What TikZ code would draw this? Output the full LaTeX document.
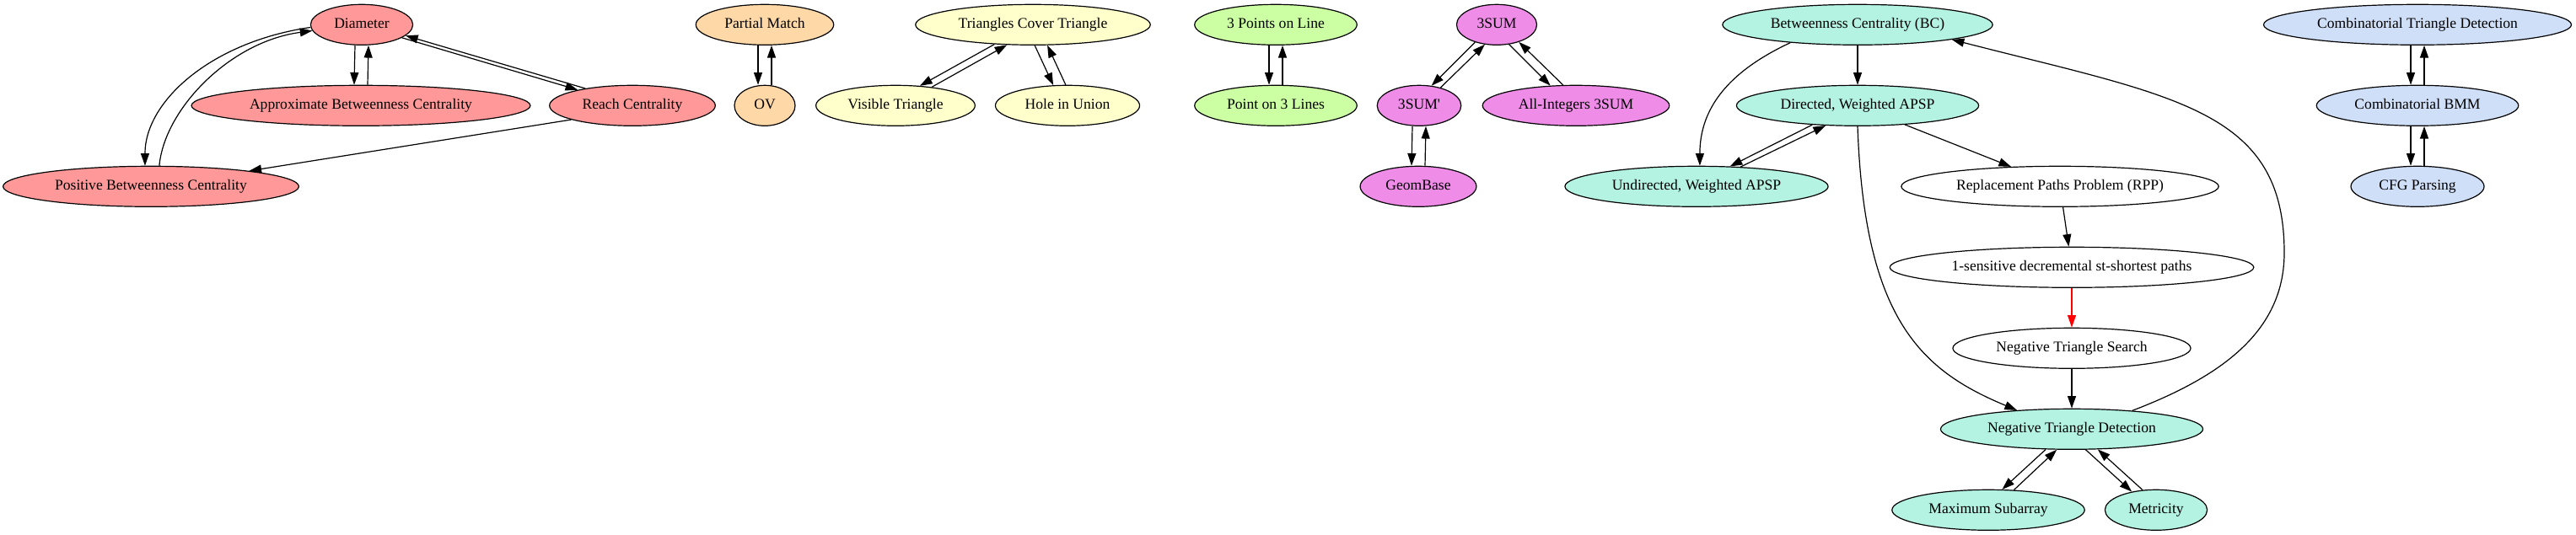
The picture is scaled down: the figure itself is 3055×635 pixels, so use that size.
\documentclass[tikz,border=0pt]{standalone}
\usepackage{fontspec}
\setmainfont{Liberation Serif}
\usetikzlibrary{arrows.meta, shapes.geometric}

\definecolor{rosefill}{HTML}{FF9999}
\definecolor{peachfill}{HTML}{FFD8A8}
\definecolor{lemonfill}{HTML}{FFFFCC}
\definecolor{limefill}{HTML}{CCFFA3}
\definecolor{orchidfill}{HTML}{EE8CE8}
\definecolor{mintfill}{HTML}{B4F2E2}
\definecolor{skyfill}{HTML}{D0DFF8}

\begin{document}
\begin{tikzpicture}[x=0.75pt, y=0.75pt,
    prob/.style={ellipse, draw, line width=0.9pt, inner xsep=7.6pt, inner ysep=2pt,
        minimum width=54pt, minimum height=36pt, text height=10pt, text depth=3pt,
        font=\fontsize{13.2}{16}\selectfont},
    rose/.style={prob, fill=rosefill},
    peach/.style={prob, fill=peachfill},
    lemon/.style={prob, fill=lemonfill},
    lime/.style={prob, fill=limefill},
    orchid/.style={prob, fill=orchidfill},
    mint/.style={prob, fill=mintfill},
    sky/.style={prob, fill=skyfill},
    link/.style={-{Triangle[length=11pt, width=7.5pt]}, line width=0.9pt}]
    \useasboundingbox (0,0) rectangle (3055,635);

    % distance problems
    \node[rose] (dia) at (429, 605.7) {Diameter};
    \node[rose] (abc) at (428, 509.7) {Approximate Betweenness Centrality};
    \node[rose] (reach) at (750, 509.7) {Reach Centrality};
    \node[rose] (pbc) at (179, 413.7) {Positive Betweenness Centrality};

    \node[peach] (pm) at (907, 605.7) {Partial Match};
    \node[peach] (ov) at (907, 509.7) {OV};

    \node[lemon] (tct) at (1225, 605.7) {Triangles Cover Triangle};
    \node[lemon] (vis) at (1062, 509.7) {Visible Triangle};
    \node[lemon] (hole) at (1266, 509.7) {Hole in Union};

    \node[lime] (tpl) at (1513, 605.7) {3 Points on Line};
    \node[lime] (plt) at (1513, 509.7) {Point on 3 Lines};

    \node[orchid] (tsum) at (1775, 605.7) {3SUM};
    \node[orchid] (tsump) at (1683, 509.7) {3SUM\textquotesingle};
    \node[orchid] (allint) at (1869, 509.7) {All-Integers 3SUM};
    \node[orchid] (geom) at (1682, 413.7) {GeomBase};

    % APSP class
    \node[mint] (bc) at (2203, 605.7) {Betweenness Centrality (BC)};
    \node[mint] (dw) at (2203, 509.7) {Directed, Weighted APSP};
    \node[mint] (uw) at (2012, 413.7) {Undirected, Weighted APSP};
    \node[prob] (rpp) at (2443, 413.7) {Replacement Paths Problem (RPP)};
    \node[prob] (ones) at (2457, 317.7) {1-sensitive decremental st-shortest paths};
    \node[prob] (nts) at (2457, 221.7) {Negative Triangle Search};
    \node[mint] (ntd) at (2457, 125.7) {Negative Triangle Detection};
    \node[mint] (maxs) at (2358, 29.7) {Maximum Subarray};
    \node[mint] (met) at (2557, 29.7) {Metricity};

    \node[sky] (ctd) at (2867, 605.7) {Combinatorial Triangle Detection};
    \node[sky] (cbmm) at (2867, 509.7) {Combinatorial BMM};
    \node[sky] (cfg) at (2867, 413.7) {CFG Parsing};

    % reductions
    \draw[link] ([xshift=-6pt]dia.south) -- ([xshift=-6pt]abc.north);
    \draw[link] ([xshift=6pt]abc.north) -- ([xshift=6pt]dia.south);
    \draw[link] (dia.342) -- (reach.164);
    \draw[link] (reach.160) -- (dia.346);
    \draw[link] (dia.183) .. controls +(-117,-17) and +(0,77) .. (pbc.106);
    \draw[link] (pbc.68) .. controls +(6,67) and +(-98,-13) .. (dia.187);
    \draw[link] (reach.193) -- (pbc.9);

    \draw[link] ([xshift=-6pt]pm.south) -- ([xshift=-6pt]ov.north);
    \draw[link] ([xshift=6pt]ov.north) -- ([xshift=6pt]pm.south);

    \draw[link] (tct.207) -- (vis.39);
    \draw[link] (vis.27) -- (tct.218);
    \draw[link] (tct.275) -- (hole.125);
    \draw[link] (hole.95) -- (tct.305);

    \draw[link] ([xshift=-6pt]tpl.south) -- ([xshift=-6pt]plt.north);
    \draw[link] ([xshift=6pt]plt.north) -- ([xshift=6pt]tpl.south);

    \draw[link] (tsum.219) -- (tsump.58);
    \draw[link] (tsump.40) -- (tsum.239);
    \draw[link] (tsum.302) -- (allint.142);
    \draw[link] (allint.122) -- (tsum.322);
    \draw[link] ([xshift=-6pt]tsump.south) -- ([xshift=-6pt]geom.north);
    \draw[link] ([xshift=6pt]geom.north) -- ([xshift=6pt]tsump.south);

    \draw[link] (bc) -- (dw);
    \draw[link] (bc.195) .. controls +(-75,-35) and +(0,67) .. (uw.81);
    \draw[link] (dw.203) -- (uw.31);
    \draw[link] (uw.24) -- (dw.212);
    \draw[link] (dw.338) -- (rpp.158);
    \draw[link] (dw.south) .. controls +(8,-230) and +(-113,47) .. (ntd.161);
    \draw[link] (rpp) -- (ones);
    \draw[link, red] (ones) -- (nts);
    \draw[link] (nts) -- (ntd);
    \draw[link] (ntd.17) .. controls (2640,190) and (2709,245) .. (2709,335)
        .. controls (2709,505) and (2580,520) .. (bc.351);
    \draw[link] (ntd.218) -- (maxs.56);
    \draw[link] (maxs.38) -- (ntd.234);
    \draw[link] (ntd.304) -- (met.143);
    \draw[link] (met.124) -- (ntd.322);

    \draw[link] ([xshift=-6pt]ctd.south) -- ([xshift=-6pt]cbmm.north);
    \draw[link] ([xshift=6pt]cbmm.north) -- ([xshift=6pt]ctd.south);
    \draw[link] ([xshift=-6pt]cbmm.south) -- ([xshift=-6pt]cfg.north);
    \draw[link] ([xshift=6pt]cfg.north) -- ([xshift=6pt]cbmm.south);
\end{tikzpicture}
\end{document}
